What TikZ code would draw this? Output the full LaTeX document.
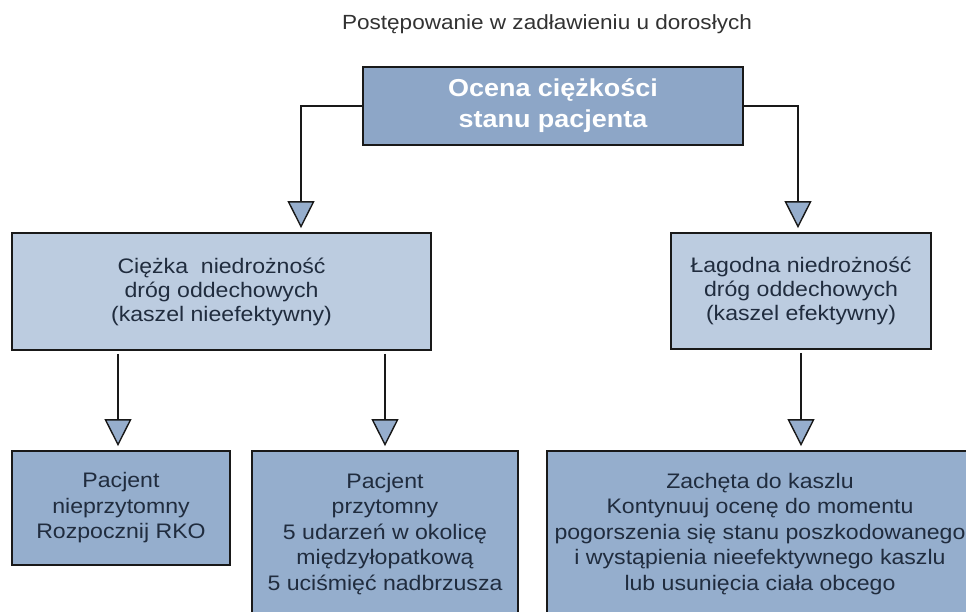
\documentclass[tikz,border=0pt]{standalone}
\usepackage{fontspec}
\setmainfont[FakeStretch=1.1]{Liberation Sans}
\usetikzlibrary{arrows.meta}
\definecolor{topfill}{RGB}{141,166,199}
\definecolor{midfill}{RGB}{188,204,224}
\definecolor{lowfill}{RGB}{149,174,205}
\definecolor{tipfill}{RGB}{150,174,205}
\definecolor{txt}{RGB}{32,44,62}
\definecolor{ttl}{RGB}{50,50,50}
\tikzset{
  box/.style={draw=black!90, line width=1.8pt, inner sep=0pt, align=center, text=txt},
  topbox/.style={box, fill=topfill, text=white, font=\fontsize{24.5}{31}\selectfont\bfseries},
  midbox/.style={box, fill=midfill, font=\fontsize{21}{24}\selectfont},
  lowbox/.style={box, fill=lowfill, font=\fontsize{21}{25.5}\selectfont},
  conn/.style={draw=black!90, line width=1.4pt, shorten >=4pt,
    -{Triangle[width=27pt,length=27pt,fill=tipfill,line width=1.4pt]}},
}
\begin{document}
\begin{tikzpicture}[x=1pt,y=-1pt]
\useasboundingbox[fill=white] (0,0) rectangle (966,611);
\node[text=ttl, font=\fontsize{20.5}{24}\selectfont] (title) at (547,24) {Postępowanie w zadławieniu u dorosłych};
\node[topbox, minimum width=380pt, minimum height=78pt] (top) at (553,106) {Ocena ciężkości\\stanu pacjenta};
\node[midbox, minimum width=419pt, minimum height=117pt] (lm) at (221.5,291.5) {Ciężka\ \ niedrożność\\dróg oddechowych\\(kaszel nieefektywny)};
\node[midbox, minimum width=260pt, minimum height=116pt] (rm) at (801,291) {Łagodna niedrożność\\dróg oddechowych\\(kaszel efektywny)};
\node[lowbox, minimum width=218pt, minimum height=114pt] (bl) at (121,508) {Pacjent\\nieprzytomny\\Rozpocznij RKO};
\node[lowbox, minimum width=266pt, minimum height=166pt] (bm) at (385,534) {Pacjent\\przytomny\\5 udarzeń w okolicę\\międzyłopatkową\\5 uciśmięć nadbrzusza};
\node[lowbox, minimum width=426pt, minimum height=166pt] (br) at (760,534) {Zachęta do kaszlu\\Kontynuuj ocenę do momentu\\pogorszenia się stanu poszkodowanego\\i wystąpienia nieefektywnego kaszlu\\lub usunięcia ciała obcego};
\coordinate (blin) at ([xshift=-3pt]bl.north);
\draw[conn] (top.west) -| ([xshift=79.5pt]lm.north);
\draw[conn] (top.east) -| ([xshift=-3pt]rm.north);
\draw[conn] ([yshift=-3pt]lm.south -| blin) -- (blin);
\draw[conn] ([yshift=-3pt]lm.south -| bm.north) -- (bm.north);
\draw[conn] ([yshift=-3pt]rm.south) -- (rm.south |- br.north);
\end{tikzpicture}
\end{document}
